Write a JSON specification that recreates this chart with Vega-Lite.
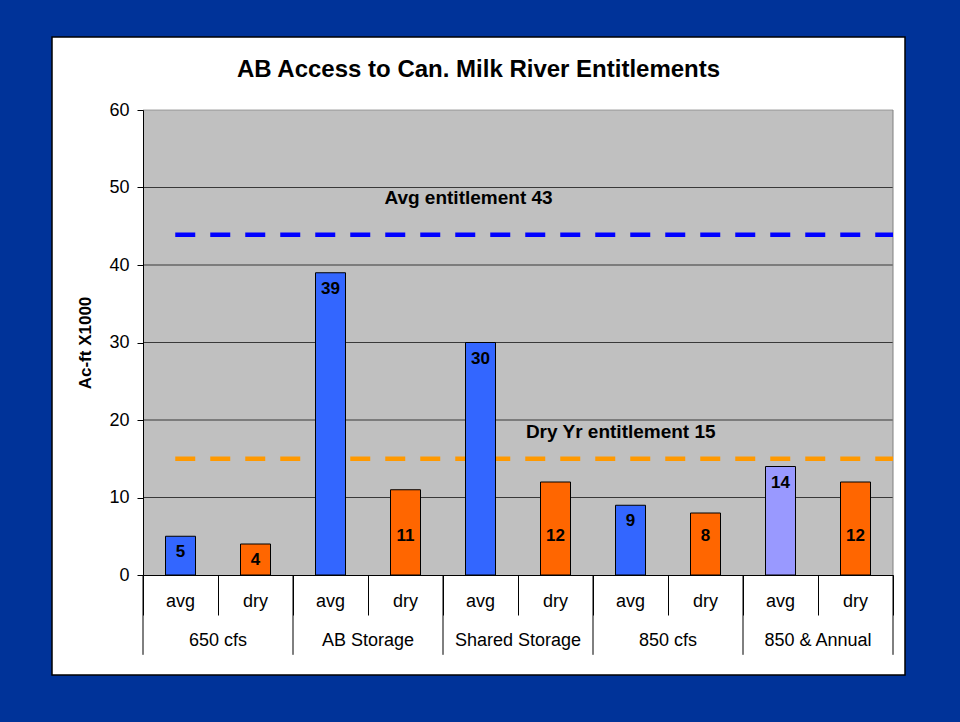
{
  "$schema": "https://vega.github.io/schema/vega-lite/v6.json",
  "width": 853,
  "height": 638,
  "autosize": {"type": "none"},
  "padding": {"left": 52, "top": 37, "right": 55, "bottom": 47},
  "background": "#003399",
  "config": {
    "view": {"fill": "white", "stroke": "black", "strokeWidth": 1.5},
    "font": "Liberation Sans"
  },
  "title": {
    "text": "AB Access to Can. Milk River Entitlements",
    "fontSize": 24,
    "fontWeight": "bold",
    "color": "black",
    "anchor": "middle",
    "frame": "group",
    "baseline": "middle",
    "offset": -57
  },
  "datasets": {
    "bars": [
      {"group": "650 cfs", "period": "avg", "cat": "650 cfs|avg", "value": 5},
      {"group": "650 cfs", "period": "dry", "cat": "650 cfs|dry", "value": 4},
      {"group": "AB Storage", "period": "avg", "cat": "AB Storage|avg", "value": 39},
      {"group": "AB Storage", "period": "dry", "cat": "AB Storage|dry", "value": 11},
      {"group": "Shared Storage", "period": "avg", "cat": "Shared Storage|avg", "value": 30},
      {"group": "Shared Storage", "period": "dry", "cat": "Shared Storage|dry", "value": 12},
      {"group": "850 cfs", "period": "avg", "cat": "850 cfs|avg", "value": 9},
      {"group": "850 cfs", "period": "dry", "cat": "850 cfs|dry", "value": 8},
      {"group": "850 & Annual", "period": "avg", "cat": "850 & Annual|avg", "value": 14},
      {"group": "850 & Annual", "period": "dry", "cat": "850 & Annual|dry", "value": 12}
    ],
    "lines": [
      {"name": "Avg entitlement", "value": 43.9},
      {"name": "Dry Yr entitlement", "value": 15}
    ]
  },
  "layer": [
    {
      "data": {"name": "bars"},
      "mark": {"type": "rect", "color": "#C0C0C0"},
      "encoding": {
        "x": {
          "field": "cat",
          "type": "nominal",
          "sort": null,
          "scale": {
            "domain": ["650 cfs|avg", "650 cfs|dry", "AB Storage|avg", "AB Storage|dry", "Shared Storage|avg", "Shared Storage|dry", "850 cfs|avg", "850 cfs|dry", "850 & Annual|avg", "850 & Annual|dry"],
            "range": [91, 841],
            "paddingInner": 0,
            "paddingOuter": 0
          }
        },
        "y": {
          "datum": 60,
          "type": "quantitative",
          "scale": {"domain": [0, 60], "range": [538, 73], "nice": false, "zero": true}
        },
        "y2": {"datum": 0}
      }
    },
    {
      "data": {"name": "bars"},
      "mark": {"type": "tick", "size": 75, "thickness": 1, "color": "black"},
      "encoding": {"x": {"field": "cat", "type": "nominal", "sort": null}, "y": {"datum": 10, "type": "quantitative"}}
    },
    {
      "data": {"name": "bars"},
      "mark": {"type": "tick", "size": 75, "thickness": 1, "color": "black"},
      "encoding": {"x": {"field": "cat", "type": "nominal", "sort": null}, "y": {"datum": 20, "type": "quantitative"}}
    },
    {
      "data": {"name": "bars"},
      "mark": {"type": "tick", "size": 75, "thickness": 1, "color": "black"},
      "encoding": {"x": {"field": "cat", "type": "nominal", "sort": null}, "y": {"datum": 30, "type": "quantitative"}}
    },
    {
      "data": {"name": "bars"},
      "mark": {"type": "tick", "size": 75, "thickness": 1, "color": "black"},
      "encoding": {"x": {"field": "cat", "type": "nominal", "sort": null}, "y": {"datum": 40, "type": "quantitative"}}
    },
    {
      "data": {"name": "bars"},
      "mark": {"type": "tick", "size": 75, "thickness": 1, "color": "black"},
      "encoding": {"x": {"field": "cat", "type": "nominal", "sort": null}, "y": {"datum": 50, "type": "quantitative"}}
    },
    {
      "data": {"name": "bars"},
      "mark": {"type": "tick", "size": 75, "thickness": 1, "color": "#808080"},
      "encoding": {"x": {"field": "cat", "type": "nominal", "sort": null}, "y": {"datum": 60, "type": "quantitative"}}
    },
    {
      "data": {"name": "bars"},
      "transform": [{"filter": "datum.cat === '850 & Annual|dry'"}],
      "mark": {"type": "rule", "color": "#808080", "strokeWidth": 1},
      "encoding": {
        "x": {"field": "cat", "type": "nominal", "sort": null, "bandPosition": 1},
        "y": {"datum": 0, "type": "quantitative"},
        "y2": {"datum": 60}
      }
    },
    {
      "data": {"name": "lines"},
      "mark": {"type": "rule", "strokeWidth": 4.5, "strokeDash": [20, 15]},
      "encoding": {
        "x": {"datum": "650 cfs|avg", "bandPosition": 0.43},
        "x2": {"datum": "850 & Annual|dry", "bandPosition": 1},
        "y": {"field": "value", "type": "quantitative"},
        "color": {"condition": {"test": "datum.name === 'Avg entitlement'", "value": "#0000FF"}, "value": "#FF9900"}
      }
    },
    {
      "data": {"name": "bars"},
      "mark": {"type": "bar", "width": {"band": 0.4}, "stroke": "black", "strokeWidth": 1},
      "encoding": {
        "x": {
          "field": "cat",
          "type": "nominal",
          "sort": null,
          "axis": {
            "orient": "bottom",
            "offset": -100,
            "title": null,
            "zindex": 1,
            "labels": false,
            "tickBand": "extent",
            "tickSize": 40,
            "tickColor": "black",
            "tickWidth": 1,
            "domainColor": "black",
            "domainWidth": 1,
            "grid": false
          }
        },
        "y": {
          "field": "value",
          "type": "quantitative",
          "axis": {
            "orient": "left",
            "offset": -91,
            "zindex": 1,
            "grid": false,
            "values": [0, 10, 20, 30, 40, 50, 60],
            "title": "Ac-ft X1000",
            "titleFontSize": 17,
            "titleFontWeight": "bold",
            "titleColor": "black",
            "titlePadding": 14,
            "labelFontSize": 18,
            "labelColor": "black",
            "labelPadding": 8,
            "tickSize": 6,
            "tickColor": "black",
            "domainColor": "black"
          }
        },
        "color": {
          "condition": {"test": "datum.group === '850 & Annual' && datum.period === 'avg'", "value": "#9999FF"},
          "field": "period",
          "type": "nominal",
          "scale": {"domain": ["avg", "dry"], "range": ["#3366FF", "#FF6600"]},
          "legend": null
        }
      }
    },
    {
      "data": {"name": "bars"},
      "transform": [{"filter": "datum.period === 'avg'"}],
      "mark": {"type": "text", "fontSize": 17, "fontWeight": "bold", "color": "black", "baseline": "top", "dy": 8},
      "encoding": {
        "x": {"field": "cat", "type": "nominal", "sort": null},
        "y": {"field": "value", "type": "quantitative"},
        "text": {"field": "value", "type": "quantitative"}
      }
    },
    {
      "data": {"name": "bars"},
      "transform": [{"filter": "datum.period === 'dry' && datum.value >= 8"}],
      "mark": {"type": "text", "fontSize": 17, "fontWeight": "bold", "color": "black", "baseline": "middle"},
      "encoding": {
        "x": {"field": "cat", "type": "nominal", "sort": null},
        "y": {"datum": 5, "type": "quantitative"},
        "text": {"field": "value", "type": "quantitative"}
      }
    },
    {
      "data": {"name": "bars"},
      "transform": [{"filter": "datum.period === 'dry' && datum.value < 8"}],
      "mark": {"type": "text", "fontSize": 17, "fontWeight": "bold", "color": "black", "baseline": "middle"},
      "encoding": {
        "x": {"field": "cat", "type": "nominal", "sort": null},
        "y": {"datum": 2, "type": "quantitative"},
        "text": {"field": "value", "type": "quantitative"}
      }
    },
    {
      "data": {"name": "bars"},
      "mark": {"type": "text", "fontSize": 18, "color": "black", "baseline": "middle"},
      "encoding": {
        "x": {"field": "cat", "type": "nominal", "sort": null},
        "y": {"datum": -3.48, "type": "quantitative"},
        "text": {"field": "period", "type": "nominal"}
      }
    },
    {
      "data": {"name": "bars"},
      "transform": [{"filter": "datum.period === 'avg'"}],
      "mark": {"type": "text", "fontSize": 18, "color": "black", "baseline": "middle"},
      "encoding": {
        "x": {"field": "cat", "type": "nominal", "sort": null, "bandPosition": 1},
        "y": {"datum": -8.5, "type": "quantitative"},
        "text": {"field": "group", "type": "nominal"}
      }
    },
    {
      "data": {"name": "bars"},
      "transform": [{"filter": "datum.period === 'dry'"}],
      "mark": {"type": "rule", "color": "black", "strokeWidth": 1},
      "encoding": {
        "x": {"field": "cat", "type": "nominal", "sort": null, "bandPosition": 1},
        "y": {"datum": 0, "type": "quantitative"},
        "y2": {"datum": -10.3}
      }
    },
    {
      "data": {"name": "bars"},
      "transform": [{"filter": "datum.cat === '650 cfs|avg'"}],
      "mark": {"type": "rule", "color": "black", "strokeWidth": 1},
      "encoding": {
        "x": {"field": "cat", "type": "nominal", "sort": null, "bandPosition": 0},
        "y": {"datum": 0, "type": "quantitative"},
        "y2": {"datum": -10.3}
      }
    },
    {
      "data": {"values": [{}]},
      "mark": {"type": "text", "text": "Avg entitlement 43", "fontSize": 19, "fontWeight": "bold", "color": "black", "baseline": "middle", "align": "center"},
      "encoding": {
        "x": {"datum": "Shared Storage|avg", "bandPosition": 0.34},
        "y": {"datum": 48.6, "type": "quantitative"}
      }
    },
    {
      "data": {"values": [{}]},
      "mark": {"type": "text", "text": "Dry Yr entitlement 15", "fontSize": 19, "fontWeight": "bold", "color": "black", "baseline": "middle", "align": "center"},
      "encoding": {
        "x": {"datum": "850 cfs|avg", "bandPosition": 0.37},
        "y": {"datum": 18.4, "type": "quantitative"}
      }
    }
  ]
}
